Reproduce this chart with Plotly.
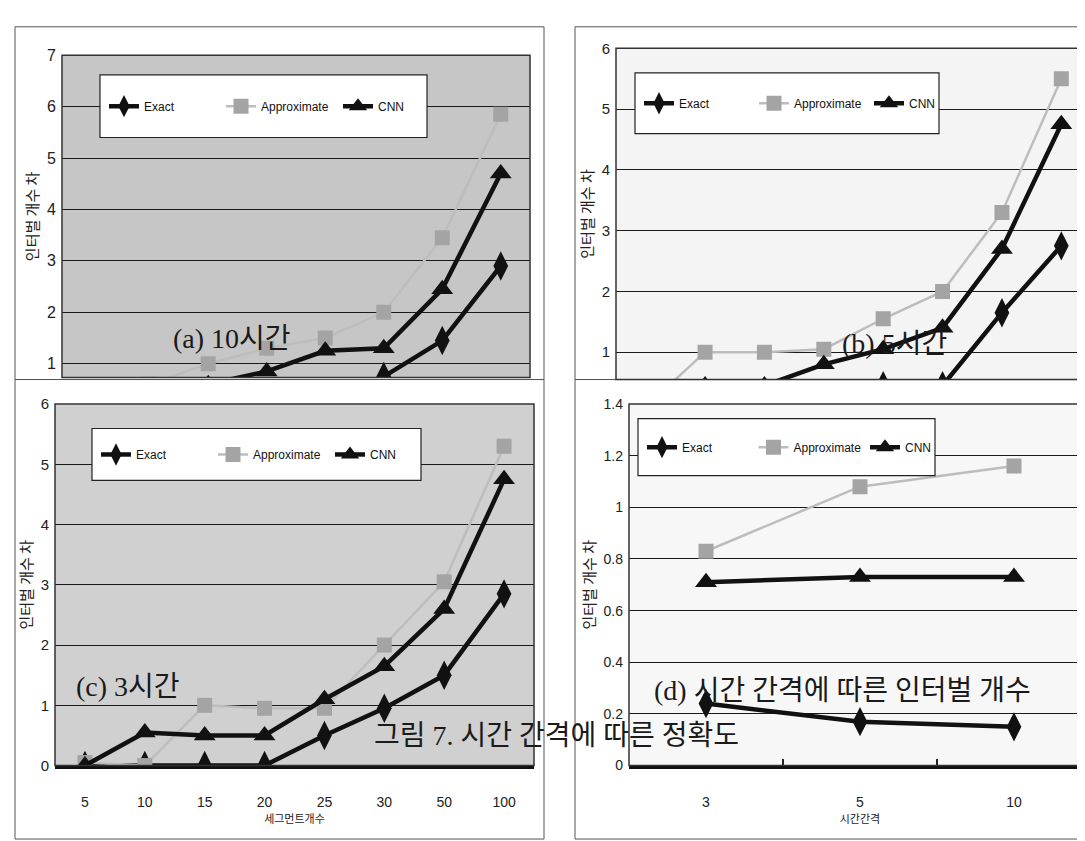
import plotly.graph_objects as go

W, H = 1085, 841

# ---------------- data ----------------
seg_cats = ["5", "10", "15", "20", "25", "30", "50", "100"]
int_cats = ["3", "5", "10"]
series_names = ["Exact", "Approximate", "CNN"]

# (a) 10 hours
exact_a = [0, 0, 0, 0, 0, 0.75, 1.45, 2.9]
approx_a = [0, 0.6, 1.0, 1.3, 1.5, 2.0, 3.45, 5.85]
cnn_a = [0, 0.5, 0.6, 0.85, 1.25, 1.3, 2.45, 4.7]

# (b) 5 hours
exact_b = [0, 0, 0, 0, 0.45, 0.45, 1.65, 2.75]
approx_b = [0.1, 1.0, 1.0, 1.05, 1.55, 2.0, 3.3, 5.5]
cnn_b = [0, 0.45, 0.45, 0.8, 1.05, 1.4, 2.7, 4.75]

# (c) 3 hours
exact_c = [0, 0, 0, 0, 0.5, 0.95, 1.5, 2.85]
approx_c = [0.05, 0, 1.0, 0.95, 0.95, 2.0, 3.05, 5.3]
cnn_c = [0, 0.55, 0.5, 0.5, 1.1, 1.65, 2.6, 4.75]

# (d) by time interval
exact_d = [0.24, 0.17, 0.15]
approx_d = [0.83, 1.08, 1.16]
cnn_d = [0.71, 0.73, 0.73]

y_title = "인터벌 개수 차"
x_title_c = "세그먼트개수"
x_title_d = "시간간격"
captions = ["(a) 10시간", "(b) 5시간", "(c) 3시간",
            "(d) 시간 간격에 따른 인터벌 개수", "그림 7. 시간 간격에 따른 정확도"]


def px(x):
    return x / W


def py(y):
    return 1 - y / H


SANS = "Liberation Sans, Arial, sans-serif"
SERIF = "Liberation Serif, Noto Sans CJK KR, serif"
KR = "Noto Sans CJK KR, sans-serif"

fig = go.Figure()

panels = [
    dict(k="", cats=seg_cats, data=(exact_a, approx_a, cnn_a), leg="legend"),
    dict(k="2", cats=seg_cats, data=(exact_b, approx_b, cnn_b), leg="legend2"),
    dict(k="3", cats=seg_cats, data=(exact_c, approx_c, cnn_c), leg="legend3"),
    dict(k="4", cats=int_cats, data=(exact_d, approx_d, cnn_d), leg="legend4"),
]

styles = [
    dict(line=dict(color="#111111", width=4.5),
         marker=dict(symbol="diamond-tall", size=21, color="#111111")),
    dict(line=dict(color="#bdbdbd", width=2.5),
         marker=dict(symbol="square", size=15, color="#a4a4a4")),
    dict(line=dict(color="#111111", width=4.5),
         marker=dict(symbol="triangle-up", size=19, color="#111111")),
]

for p in panels:
    for name, vals, st in zip(series_names, p["data"], styles):
        fig.add_trace(go.Scatter(
            x=p["cats"], y=vals, name=name, mode="lines+markers",
            xaxis="x" + p["k"], yaxis="y" + p["k"], legend=p["leg"],
            line=st["line"], marker=st["marker"], showlegend=True,
        ))

# panel geometry (pixels)
geo = {
    "": dict(x0=54, x1=522, y0=39, y1=368, yr=[0.73, 7.0001], dt=1, bg="#c6c6c6",
             leg=(92, 59, 419, 123), tf=16, n=len(seg_cats)),
    "2": dict(x0=608, x1=1083, y0=32, y1=370, yr=[0.55, 6.0001], dt=1, bg="#f4f4f4",
              leg=(627, 57, 931, 119), tf=15, n=len(seg_cats)),
    "3": dict(x0=47, x1=526, y0=395, y1=764, yr=[0, 6.0001], dt=1, bg="#d0d0d0",
              leg=(84, 420, 413, 473), tf=15, n=len(seg_cats)),
    "4": dict(x0=621, x1=1083, y0=395, y1=764, yr=[0, 1.4001], dt=0.2, bg="#f7f7f7",
              leg=(630, 410, 927, 468), tf=14, n=len(int_cats)),
}

shapes = []
layout_axes = {}
for k, g in geo.items():
    xa = "xaxis" + k
    ya = "yaxis" + k
    show_x = k in ("3", "4")
    layout_axes[xa] = dict(
        domain=[px(g["x0"]), px(g["x1"])], anchor="y" + k, type="category",
        range=[-0.5, g["n"] - 0.5],
        showgrid=False, zeroline=False, showline=show_x, linecolor="#111", linewidth=2.5,
        showticklabels=show_x, ticklabelstandoff=22,
        tickfont=dict(family=SANS, size=14, color="#222"),
        ticks="inside" if k == "4" else "", tickson="boundaries" if k == "4" else "labels",
        ticklen=7, tickcolor="#222", tickwidth=1.5,
        title=dict(text=(x_title_c if k == "3" else x_title_d) if show_x else "",
                   font=dict(family=KR, size=11, color="#222"), standoff=1),
    )
    layout_axes[ya] = dict(
        domain=[py(g["y1"]), py(g["y0"])], anchor="x" + k, range=g["yr"], dtick=g["dt"],
        showgrid=True, gridcolor="#1a1a1a", gridwidth=1.3, zeroline=False,
        showline=False, tickfont=dict(family=SANS, size=g["tf"], color="#222"),
        ticklabelstandoff=5,
        title=dict(text=y_title, font=dict(family=KR, size=15, color="#222"), standoff=4),
    )
    xr = "x" + k + " domain"
    yr = "y" + k + " domain"
    shapes.append(dict(type="rect", xref=xr, yref=yr, x0=0, x1=1, y0=0, y1=1,
                       fillcolor=g["bg"], line=dict(width=0), layer="below"))
    shapes.append(dict(type="rect", xref=xr, yref=yr, x0=0, x1=1, y0=0, y1=1,
                       line=dict(color="#333", width=1.5), layer="above"))
    lx0, ly0, lx1, ly1 = g["leg"]
    shapes.append(dict(type="rect", xref="paper", yref="paper",
                       x0=px(lx0), x1=px(lx1), y0=py(ly1), y1=py(ly0),
                       fillcolor="white", line=dict(color="#222", width=1.2), layer="above"))

# outer panel frames
for (x0, y0, x1, y1) in [(7, 10, 536, 370), (567, 10, 1083, 370), (7, 370, 536, 839), (567, 370, 1083, 839)]:
    shapes.append(dict(type="rect", xref="paper", yref="paper", x0=px(x0), x1=px(x1),
                       y0=py(y1), y1=py(y0), line=dict(color="#555", width=1), layer="below"))

legends = {}
for k, g in geo.items():
    lx0, ly0, lx1, ly1 = g["leg"]
    name = "legend" if k == "" else "legend" + k
    ew = min(72, (lx1 - lx0 - 70) / 2 - 47)
    legends[name] = dict(
        x=px(lx0 + 4), y=py((ly0 + ly1) / 2), xanchor="left", yanchor="middle",
        orientation="h", bgcolor="rgba(0,0,0,0)", borderwidth=0,
        font=dict(family=SANS, size=12, color="#111"),
        entrywidth=ew, entrywidthmode="pixels", itemwidth=30,
        tracegroupgap=0,
    )

cap_pos = [(224, 328, 28), (887, 333, 28), (120, 683, 28), (834, 687, 28), (548, 733, 28)]
annotations = []
for text, (cx, cy, fs) in zip(captions, cap_pos):
    annotations.append(dict(text=text, x=px(cx), y=py(cy), xref="paper", yref="paper",
                            showarrow=False, xanchor="center", yanchor="middle",
                            font=dict(family=SERIF, size=fs, color="#1a1a1a")))

fig.update_layout(
    width=W, height=H, margin=dict(l=0, r=0, t=0, b=0),
    paper_bgcolor="white", plot_bgcolor="rgba(0,0,0,0)",
    shapes=shapes, annotations=annotations, **layout_axes, **legends,
)

fig.write_html("out.html")
